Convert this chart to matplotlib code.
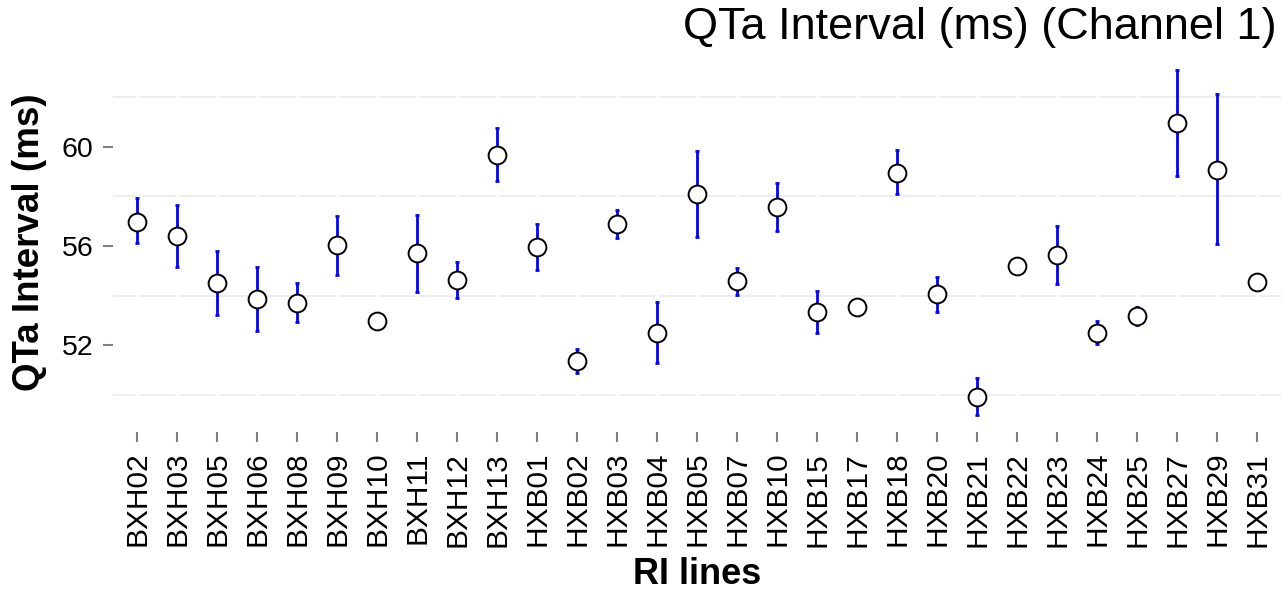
import matplotlib
matplotlib.use("Agg")
import matplotlib.pyplot as plt
import numpy as np

plt.rcParams['font.family'] = ['Liberation Sans', 'DejaVu Sans']

# RI lines and QTa interval (mean with lower / upper error limits)
lines = ['BXH02', 'BXH03', 'BXH05', 'BXH06', 'BXH08', 'BXH09', 'BXH10', 'BXH11',
         'BXH12', 'BXH13', 'HXB01', 'HXB02', 'HXB03', 'HXB04', 'HXB05', 'HXB07',
         'HXB10', 'HXB15', 'HXB17', 'HXB18', 'HXB20', 'HXB21', 'HXB22', 'HXB23',
         'HXB24', 'HXB25', 'HXB27', 'HXB29', 'HXB31']
qta_mean = [56.98, 56.40, 54.52, 53.86, 53.71, 56.03, 52.98, 55.70,
            54.63, 59.68, 55.95, 51.35, 56.89, 52.47, 58.10, 54.59,
            57.56, 53.32, 53.55, 58.96, 54.05, 49.91, 55.19, 55.64,
            52.50, 53.17, 60.96, 59.07, 54.56]
qta_low = [56.11, 55.15, 53.22, 52.58, 52.94, 54.83, 52.98, 54.15,
           53.89, 58.63, 55.02, 50.88, 56.31, 51.26, 56.38, 54.02,
           56.62, 52.50, 53.55, 58.09, 53.35, 49.17, 55.19, 54.45,
           52.03, 52.80, 58.83, 56.07, 54.56]
qta_high = [57.93, 57.66, 55.81, 55.14, 54.49, 57.23, 52.98, 57.25,
            55.35, 60.76, 56.89, 51.86, 57.45, 53.75, 59.85, 55.12,
            58.53, 54.17, 53.55, 59.88, 54.76, 50.65, 55.19, 56.82,
            52.98, 53.55, 63.11, 62.13, 54.56]
major_ticks = [52, 56, 60]
minor_grid = [50, 54, 58, 62]

W, H = 1283, 592
fig = plt.figure(figsize=(W / 100, H / 100), dpi=100)
ax = fig.add_axes([113 / W, 1 - 432.4 / H, (1281 - 113) / W, (432.4 - 52.7) / H])

x = np.arange(len(lines))
mean = np.array(qta_mean)
low = np.array(qta_low)
high = np.array(qta_high)

# grid: light horizontal lines broken by white vertical lines at each category
for g in minor_grid:
    ax.axhline(g, color='#EBEBEB', linewidth=1.2, zorder=0)
for xi in x:
    ax.axvline(xi, color='white', linewidth=2.5, zorder=0.5)

ax.errorbar(x, mean, yerr=[mean - low, high - mean], fmt='none', ecolor='blue',
            elinewidth=2.0, capsize=1.2, capthick=2.0, zorder=2)
ax.plot(x, mean, 'o', markersize=12.8, markerfacecolor='white',
        markeredgecolor='black', markeredgewidth=1.4, zorder=3)

ax.set_xlim(-0.6, len(lines) - 0.4)
span = high.max() - low.min()
ax.set_ylim(low.min() - 0.05 * span, high.max() + 0.05 * span)

ax.set_xticks(x)
ax.set_xticklabels(lines, rotation=90, fontsize=21.5)
ax.set_yticks(major_ticks)
ax.set_yticklabels([str(t) for t in major_ticks], fontsize=20.5)
ax.tick_params(axis='both', color='#808080', length=7.5, width=1.5, pad=6.5)
for s in ax.spines.values():
    s.set_visible(False)

ax.set_ylabel('QTa Interval (ms)', fontsize=26.5, fontweight='bold', labelpad=11)
fig.text(697 / W, 1 - 574 / H, 'RI lines', fontsize=26, fontweight='bold',
         ha='center', va='center')
fig.text(1277 / W, 1 - 7 / H, 'QTa Interval (ms) (Channel 1)', fontsize=32.5,
         ha='right', va='top')

fig.savefig('out.png', dpi=100)
